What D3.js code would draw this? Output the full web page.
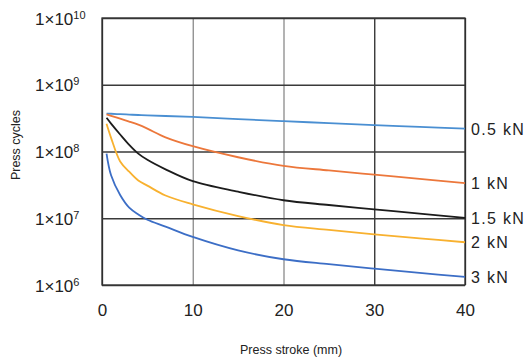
<!DOCTYPE html>
<html>
<head>
<meta charset="utf-8">
<script src="https://cdn.jsdelivr.net/npm/d3@7"></script>
<style>
  body { margin: 0; background: #fff; }
  svg { display: block; font-family: "Liberation Sans", Arial, sans-serif; }
</style>
</head>
<body>
<div id="chart"></div>
<script>
// press stroke (mm) at which the curves were read
const stroke = [0.5, 1, 2, 3, 4, 5, 7, 10, 15, 20, 25, 30, 35, 40];

// press cycles per load
const cycles05 = [3.7e8, 3.68e8, 3.62e8, 3.57e8, 3.52e8, 3.48e8, 3.4e8, 3.3e8, 3.06e8, 2.85e8, 2.66e8, 2.48e8, 2.34e8, 2.2e8];
const cycles1  = [3.6e8, 3.43e8, 3.1e8, 2.81e8, 2.52e8, 2.2e8, 1.63e8, 1.2e8, 8.2e7, 6.1e7, 5.2e7, 4.5e7, 3.9e7, 3.35e7];
const cycles15 = [3.2e8, 2.62e8, 1.8e8, 1.26e8, 9.3e7, 7.5e7, 5.4e7, 3.59e7, 2.5e7, 1.86e7, 1.58e7, 1.36e7, 1.17e7, 1.01e7];
const cycles2  = [2.6e8, 1.6e8, 7.1e7, 4.98e7, 3.67e7, 3.08e7, 2.19e7, 1.62e7, 1.08e7, 7.9e6, 6.7e6, 5.75e6, 5.0e6, 4.37e6];
const cycles3  = [9.3e7, 4.4e7, 2.23e7, 1.44e7, 1.14e7, 9.5e6, 7.5e6, 5.25e6, 3.3e6, 2.43e6, 2.05e6, 1.76e6, 1.52e6, 1.32e6];

const loadLabels = ["0.5 kN", "1 kN", "1.5 kN", "2 kN", "3 kN"];
const loadColors = ["#4a8fd2", "#ec773b", "#1c1c1c", "#f8b12f", "#3c6ec6"];

const xTicks = [0, 10, 20, 30, 40];
const yTicks = [1e6, 1e7, 1e8, 1e9, 1e10];

const series = [cycles05, cycles1, cycles15, cycles2, cycles3].map((vals, i) => ({
  label: loadLabels[i],
  color: loadColors[i],
  points: stroke.map((s, j) => ({ x: s, y: vals[j] }))
}));

const W = 529, H = 361;
const margin = { top: 18, right: 64, bottom: 76, left: 102 };
const width = W - margin.left - margin.right;
const height = H - margin.top - margin.bottom;

const svg = d3.select("#chart").append("svg")
  .attr("width", W)
  .attr("height", H);

const g = svg.append("g")
  .attr("transform", "translate(" + margin.left + "," + margin.top + ")");

const x = d3.scaleLinear().domain([0, 40]).range([0, width]);
const y = d3.scaleLog().domain([1e6, 1e10]).range([height, 0]);

// vertical grid + x labels
const gx = g.append("g")
  .attr("transform", "translate(0," + height + ")")
  .call(d3.axisBottom(x).tickValues(xTicks).tickSize(-height).tickPadding(19));
gx.select(".domain").remove();
gx.selectAll(".tick line")
  .attr("stroke", (d) => (d === 10 || d === 20) ? "#8a8a8a" : "#2a2a2a")
  .attr("stroke-width", 1.3);
gx.selectAll(".tick text")
  .attr("fill", "#222")
  .style("font-size", "17px");

// horizontal grid + y labels
const gy = g.append("g")
  .call(d3.axisLeft(y).tickValues(yTicks).tickSize(-width));
gy.select(".domain").remove();
gy.selectAll(".tick line")
  .attr("stroke", "#3a3a3a")
  .attr("stroke-width", 1.3);
gy.selectAll(".tick text")
  .attr("x", -67)
  .attr("dy", null)
  .attr("y", 6)
  .attr("text-anchor", "start")
  .attr("fill", "#222")
  .style("font-size", "17px")
  .text(null)
  .each(function(d) {
    const t = d3.select(this);
    t.append("tspan").text("1×10");
    t.append("tspan")
      .attr("dy", -6)
      .style("font-size", "11px")
      .text(Math.round(Math.log10(d)));
  });

// frame
g.append("rect")
  .attr("width", width)
  .attr("height", height)
  .attr("fill", "none")
  .attr("stroke", "#333")
  .attr("stroke-width", 1.3);

// curves
const line = d3.line()
  .x(d => x(d.x))
  .y(d => y(d.y))
  .curve(d3.curveCatmullRom.alpha(0.5));

g.selectAll(".curve")
  .data(series)
  .enter()
  .append("path")
  .attr("class", "curve")
  .attr("d", d => line(d.points))
  .attr("fill", "none")
  .attr("stroke", d => d.color)
  .attr("stroke-width", 1.8);

// end labels
g.selectAll(".load")
  .data(series)
  .enter()
  .append("text")
  .attr("class", "load")
  .attr("x", width + 6)
  .attr("y", d => y(d.points[d.points.length - 1].y) + 6)
  .attr("fill", "#222")
  .style("font-size", "16px")
  .style("letter-spacing", "1.3px")
  .text(d => d.label);

// axis titles
svg.append("text")
  .attr("x", 291)
  .attr("y", 354)
  .attr("text-anchor", "middle")
  .attr("fill", "#222")
  .style("font-size", "12.5px")
  .text("Press stroke (mm)");

svg.append("text")
  .attr("transform", "translate(20,145) rotate(-90)")
  .attr("text-anchor", "middle")
  .attr("fill", "#222")
  .style("font-size", "12.5px")
  .text("Press cycles");
</script>
</body>
</html>
